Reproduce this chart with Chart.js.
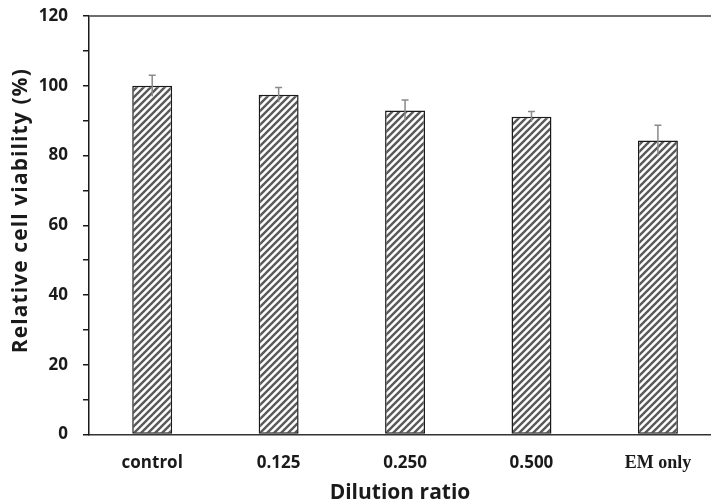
<!DOCTYPE html>
<html>
<head>
<meta charset="utf-8">
<title>Relative cell viability</title>
<script src="https://cdn.jsdelivr.net/npm/chart.js@4.4.1/dist/chart.umd.min.js"></script>
<style>
  html, body { margin: 0; padding: 0; background: #fff; }
  #wrap { width: 711px; height: 501px; }
</style>
</head>
<body>
<div id="wrap"><canvas id="chart" width="711" height="501"></canvas></div>
<script>
// dilution groups and measured viability (% of control), with SD
const categories = ["control", "0.125", "0.250", "0.500", "EM only"];
const viability = [100, 97.4, 92.9, 91.1, 84.3];
const errors = [3.0, 2.1, 3.0, 1.5, 4.4];
const yTicks = [0, 20, 40, 60, 80, 100, 120];
const yTitle = "Relative cell viability (%)";

// diagonal hatch fill for the bars
const makeHatch = () => {
  const s = 7;
  const c = document.createElement("canvas");
  c.width = s;
  c.height = s;
  const g = c.getContext("2d");
  g.fillStyle = "#fff";
  g.fillRect(0, 0, s, s);
  g.strokeStyle = "#5a5a5a";
  g.lineWidth = 2.4;
  g.beginPath();
  g.moveTo(0, s);
  g.lineTo(s, 0);
  g.moveTo(-s / 2, s / 2);
  g.lineTo(s / 2, -s / 2);
  g.moveTo(s / 2, s * 1.5);
  g.lineTo(s * 1.5, s / 2);
  g.stroke();
  return g.createPattern(c, "repeat");
};

// symmetric error bars, cap on top only
const errorBars = {
  id: "errorBars",
  afterDatasetsDraw(chart) {
    const { ctx } = chart;
    const y = chart.scales.y;
    const meta = chart.getDatasetMeta(0);
    ctx.save();
    ctx.strokeStyle = "#8a8a8a";
    ctx.lineWidth = 1.5;
    meta.data.forEach((bar, i) => {
      const top = y.getPixelForValue(viability[i] + errors[i]);
      const bot = y.getPixelForValue(viability[i] - errors[i]);
      ctx.beginPath();
      ctx.moveTo(bar.x, bot);
      ctx.lineTo(bar.x, top);
      ctx.moveTo(bar.x - 3.5, top);
      ctx.lineTo(bar.x + 3.5, top);
      ctx.stroke();
    });
    ctx.restore();
  },
};

// top frame line + spaced y axis title
const frame = {
  id: "frame",
  afterDraw(chart) {
    const { ctx, chartArea } = chart;
    const yTop = chart.scales.y.getPixelForValue(chart.scales.y.max);
    ctx.save();
    ctx.strokeStyle = "#6e6e6e";
    ctx.lineWidth = 2;
    ctx.beginPath();
    ctx.moveTo(chartArea.left, yTop);
    ctx.lineTo(chartArea.right, yTop);
    ctx.stroke();
    ctx.restore();

    const spacing = 1.1;
    ctx.save();
    ctx.font = "bold 21px 'Open Sans', sans-serif";
    ctx.letterSpacing = "0px";
    const w = ctx.measureText(yTitle).width + spacing * (yTitle.length - 1);
    const mid = (chartArea.top + chartArea.bottom) / 2 - 14;
    ctx.translate(27, mid + w / 2);
    ctx.rotate(-Math.PI / 2);
    ctx.letterSpacing = spacing + "px";
    ctx.fillStyle = "#1a1a1a";
    ctx.textAlign = "left";
    ctx.textBaseline = "alphabetic";
    ctx.fillText(yTitle, 0, 0);
    ctx.restore();
  },
};

const ctx = document.getElementById("chart").getContext("2d");
new Chart(ctx, {
  type: "bar",
  data: {
    datasets: [
      {
        label: yTitle,
        data: categories.map((c, i) => ({ x: i + 1, y: viability[i] })),
        backgroundColor: makeHatch(),
        borderColor: "#1a1a1a",
        borderWidth: 1.5,
        borderSkipped: false,
        barPercentage: 0.316,
        categoryPercentage: 1,
      },
    ],
  },
  options: {
    responsive: false,
    animation: false,
    layout: { padding: { top: 16, right: 0, bottom: 0, left: 0 } },
    plugins: {
      legend: { display: false },
      tooltip: { enabled: false },
    },
    scales: {
      x: {
        type: "linear",
        offset: false,
        min: 0.5,
        max: 5.42,
        afterBuildTicks: (scale) => {
          scale.ticks = categories.map((c, i) => ({ value: i + 1 }));
        },
        afterFit: (scale) => {
          scale.height = 66.5;
          scale.paddingLeft = 0;
          scale.paddingRight = 0;
        },
        grid: { display: false, drawTicks: false, offset: false },
        border: { color: "#333", width: 1.5 },
        ticks: {
          padding: 18,
          color: "#1a1a1a",
          callback: (v) => categories[v - 1],
          font: (c) =>
            c.index === categories.length - 1
              ? { family: "'Liberation Serif', 'Times New Roman', serif", size: 18, weight: "bold" }
              : { family: "'Open Sans', sans-serif", size: 17, weight: "bold" },
        },
        title: {
          display: true,
          text: "Dilution ratio",
          color: "#1a1a1a",
          font: { family: "'Open Sans', sans-serif", size: 21, weight: "bold", lineHeight: 0.8 },
          padding: { top: 0, bottom: 0 },
        },
      },
      y: {
        min: 0,
        max: 120,
        afterFit: (scale) => {
          scale.width = 89;
          scale.paddingTop = 0;
          scale.paddingBottom = 0;
        },
        grid: {
          drawOnChartArea: false,
          drawTicks: true,
          tickLength: 6,
          color: "#1a1a1a",
          lineWidth: 1.5,
        },
        border: { color: "#1a1a1a", width: 1.5 },
        ticks: {
          stepSize: 10,
          padding: 15,
          color: "#1a1a1a",
          font: { family: "'Open Sans', sans-serif", size: 17, weight: "bold" },
          callback: (v) => (yTicks.includes(v) ? v : ""),
        },
      },
    },
  },
  plugins: [errorBars, frame],
});
</script>
</body>
</html>
